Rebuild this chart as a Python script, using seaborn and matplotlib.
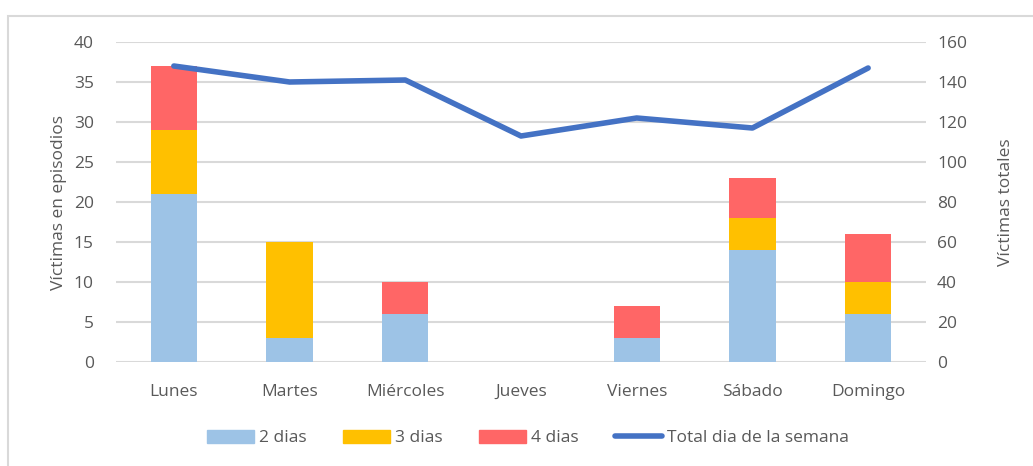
import matplotlib
matplotlib.use("Agg")
import matplotlib.pyplot as plt
from matplotlib.patches import Patch, Rectangle
from matplotlib.lines import Line2D
import numpy as np
import pandas as pd
import seaborn as sns

dias = ["Lunes", "Martes", "Miércoles", "Jueves", "Viernes", "Sábado", "Domingo"]
dos_dias = [21, 3, 6, 0, 3, 14, 6]
tres_dias = [8, 12, 0, 0, 0, 4, 4]
cuatro_dias = [8, 0, 4, 0, 4, 5, 6]
total_semana = [148, 140, 141, 113, 122, 117, 147]

c_2 = "#9DC3E6"
c_3 = "#FFC000"
c_4 = "#FF6666"
c_line = "#4472C4"
txt = "#595959"
grid = "#D9D9D9"
fs = 12.5

sns.set_theme(style="white")
plt.rcParams['font.family'] = ['Open Sans', 'DejaVu Sans']

fig = plt.figure(figsize=(10.33, 4.66), dpi=100)
W, H = 1033, 466
ax = fig.add_axes([116 / W, 1 - 362 / H, (926 - 116) / W, (362 - 42) / H])

# outer border
fig.patches.append(Rectangle((8 / W, -0.1), 1.2, 1 - 16 / H + 0.1, transform=fig.transFigure,
                             fill=False, edgecolor="#D9D9D9", linewidth=1.5, zorder=0))

df = pd.DataFrame({"dia": dias, "d2": dos_dias, "d3": tres_dias, "d4": cuatro_dias})
df["s3"] = df["d2"] + df["d3"]
df["s4"] = df["s3"] + df["d4"]

for col, color in [("s4", c_4), ("s3", c_3), ("d2", c_2)]:
    sns.barplot(data=df, x="dia", y=col, color=color, width=0.4, ax=ax,
                saturation=1, linewidth=0, zorder=3, order=dias)

ax.set_ylim(0, 40)
ax.set_xlim(-0.5, 6.5)
ax.set_yticks(range(0, 41, 5))
ax.yaxis.grid(True, color=grid, linewidth=1.5, zorder=0)
ax.set_axisbelow(True)
for s in ax.spines.values():
    s.set_visible(False)
ax.tick_params(axis="both", length=0, colors=txt, labelsize=fs)
ax.tick_params(axis="x", pad=16)
ax.tick_params(axis="y", pad=16)
ax.set_xlabel("")
ax.set_ylabel("Víctimas en episodios", color=txt, fontsize=fs, labelpad=5)

ax2 = ax.twinx()
sns.lineplot(x=np.arange(len(dias)), y=total_semana, color=c_line, linewidth=4,
             ax=ax2, zorder=5, solid_capstyle="round")
ax2.set_ylim(0, 160)
ax2.set_yticks(range(0, 161, 20))
ax2.set_xlim(-0.5, 6.5)
for s in ax2.spines.values():
    s.set_visible(False)
ax2.tick_params(axis="y", length=0, colors=txt, labelsize=fs, pad=8)
ax2.set_ylabel("Víctimas totales", color=txt, fontsize=fs, labelpad=22)
ax2.grid(False)

handles = [Patch(color=c_2, label="2 dias"), Patch(color=c_3, label="3 dias"),
           Patch(color=c_4, label="4 dias"),
           Line2D([0], [0], color=c_line, linewidth=4, solid_capstyle="round",
                  label="Total dia de la semana")]
leg = fig.legend(handles=handles, loc="center", bbox_to_anchor=(528 / W, 1 - 438 / H),
                 ncol=4, frameon=False, fontsize=fs, handlelength=2.7, handleheight=0.8,
                 handletextpad=0.3, columnspacing=2.1, labelcolor=txt)

fig.savefig("out.png", dpi=100)
